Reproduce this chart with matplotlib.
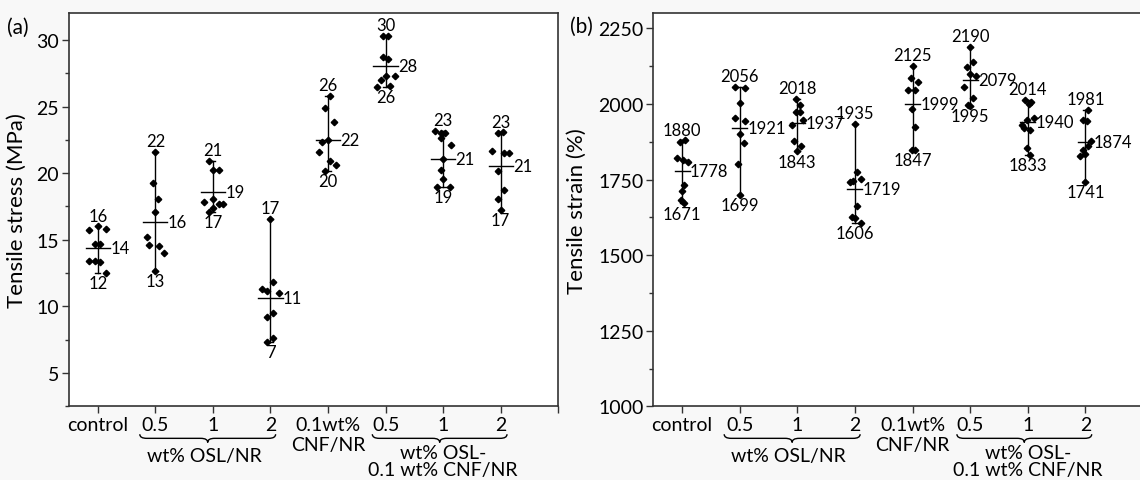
import matplotlib
matplotlib.use('Agg')
import matplotlib.pyplot as plt
from matplotlib.path import Path
from matplotlib.patches import PathPatch
from matplotlib.ticker import MultipleLocator
import numpy as np

plt.rcParams['font.family'] = ['Lato', 'DejaVu Sans']
plt.rcParams['font.size'] = 14

tick_labels = ['control', '0.5', '1', '2', '0.1wt%\nCNF/NR', '0.5', '1', '2', '']

# tensile stress (MPa), one list per sample group
stress_vals = [
    [16.0, 15.8, 15.7, 14.7, 14.7, 13.4, 13.4, 13.3, 12.5],
    [21.57, 19.25, 18.07, 17.08, 15.21, 14.6, 14.5, 14.03, 12.63],
    [20.9, 20.27, 20.27, 18.07, 17.85, 17.65, 17.65, 17.4, 17.08],
    [16.58, 11.84, 11.34, 11.14, 11.0, 9.47, 9.22, 7.6, 7.3],
    [25.8, 24.89, 23.82, 22.52, 22.32, 21.57, 20.9, 20.65, 20.2],
    [30.3, 30.3, 28.73, 28.55, 27.26, 27.26, 26.98, 26.56, 26.48],
    [23.19, 22.99, 22.99, 22.64, 22.14, 21.07, 20.25, 19.57, 19.0, 19.0],
    [23.07, 22.99, 21.69, 21.52, 21.52, 20.2, 18.77, 18.07, 17.25],
]
# horizontal scatter of the points as they sit in the figure
stress_dx = [
    [0, 0.145, -0.16, -0.05, 0.04, -0.16, -0.05, 0.04, 0.145],
    [0, -0.046, 0.046, 0, -0.144, -0.104, 0.058, 0.156, 0],
    [-0.075, 0.01, 0.1, 0.01, -0.15, 0.1, 0.17, 0.01, -0.075],
    [0, 0.046, -0.144, -0.052, 0.15, 0.046, -0.052, 0.046, -0.052],
    [0.04, -0.058, 0.1, 0, -0.1, -0.156, 0.04, 0.144, -0.058],
    [-0.04, 0.046, -0.04, 0.046, 0, 0.16, -0.087, 0.075, -0.156],
    [-0.144, -0.03, 0.04, -0.04, 0.144, 0, -0.04, 0, -0.1, 0.115],
    [0.04, -0.046, -0.15, 0.05, 0.144, -0.046, 0.05, -0.046, 0],
]
stress_mean = [14.4, 16.3, 18.6, 10.6, 22.5, 28.05, 21.07, 20.57]
stress_top = [16, 22, 21, 17, 26, 30, 23, 23]
stress_bot = [12, 13, 17, 7, 20, 26, 19, 17]

# tensile strain (%)
strain_vals = [
    [1880, 1875, 1822, 1816, 1808, 1732, 1712, 1681, 1671],
    [2056, 2052, 2003, 1954, 1943, 1901, 1871, 1800, 1699],
    [2018, 1997, 1974, 1973, 1948, 1931, 1879, 1862, 1843],
    [1935, 1774, 1752, 1746, 1741, 1664, 1626, 1624, 1606],
    [2125, 2086, 2074, 2048, 2047, 1984, 1925, 1849, 1847],
    [2190, 2140, 2123, 2099, 2092, 2055, 2019, 1998, 1995],
    [2014, 2008, 2000, 1953, 1948, 1930, 1921, 1915, 1855, 1833],
    [1981, 1948, 1943, 1879, 1862, 1849, 1835, 1829, 1741],
]
strain_dx = [
    [0.058, -0.04, -0.087, 0.017, 0.104, 0.035, 0, -0.023, 0.035],
    [-0.075, 0.087, 0, -0.087, 0.087, 0, 0.07, -0.03, 0],
    [-0.02, 0.04, -0.03, 0.04, 0.1, -0.087, -0.064, 0.07, 0],
    [0, 0.04, 0.1, -0.03, -0.087, 0.04, -0.058, 0, 0.1],
    [0, -0.03, 0.1, -0.075, 0.04, -0.017, 0.04, -0.017, 0.04],
    [0, 0.058, -0.058, 0, 0.104, -0.1, 0.058, -0.04, 0],
    [-0.05, 0.064, 0.02, 0.1, -0.02, -0.1, -0.07, 0.035, -0.02, 0.035],
    [0.04, -0.046, 0.02, 0.1, 0.04, -0.046, 0, -0.1, 0],
]
strain_mean = [1778, 1921, 1937, 1719, 1999, 2079, 1940, 1874]
strain_top = [1880, 2056, 2018, 1935, 2125, 2190, 2014, 1981]
strain_bot = [1671, 1699, 1843, 1606, 1847, 1995, 1833, 1741]


def brace(ax, x0, x1, y, h):
    # curly brace below the axis, x in data units, y in axes fraction
    xm = (x0 + x1) / 2
    d = 0.12
    verts = [(x0, y), (x0, y - h / 2), (x0 + d, y - h / 2),
             (xm - d, y - h / 2), (xm, y - h / 2), (xm, y - h),
             (xm, y - h / 2), (xm + d, y - h / 2),
             (x1 - d, y - h / 2), (x1, y - h / 2), (x1, y)]
    codes = [Path.MOVETO, Path.CURVE3, Path.CURVE3,
             Path.LINETO, Path.CURVE3, Path.CURVE3,
             Path.CURVE3, Path.CURVE3,
             Path.LINETO, Path.CURVE3, Path.CURVE3]
    p = PathPatch(Path(verts, codes), transform=ax.get_xaxis_transform(),
                  fc='none', ec='k', lw=1, clip_on=False)
    ax.add_patch(p)


def draw_panel(ax, vals, dx, means, tops, bots, half):
    cap = 0.045
    fs = 12
    for i in range(len(vals)):
        x = i + 1
        v = np.array(vals[i])
        ax.plot(x + np.array(dx[i]), v, 'D', color='k', ms=3.3, zorder=3)
        lo, hi = v.min(), v.max()
        ax.plot([x, x], [lo, hi], color='k', lw=1)
        ax.plot([x - cap, x + cap], [hi, hi], color='k', lw=1)
        ax.plot([x - cap, x + cap], [lo, lo], color='k', lw=1)
        ax.plot([x - half, x + half], [means[i], means[i]], color='k', lw=1)
        ax.annotate(str(tops[i]), (x, hi), xytext=(0, 2), textcoords='offset points',
                    ha='center', va='bottom', fontsize=fs)
        ax.annotate(str(bots[i]), (x, lo), xytext=(0, -1.5), textcoords='offset points',
                    ha='center', va='top', fontsize=fs)
        ax.annotate('{:.0f}'.format(means[i]), (x + half, means[i]), xytext=(0.3, 0),
                    textcoords='offset points', ha='left', va='center', fontsize=fs)

    ax.set_xlim(0.5, 9)
    ax.set_xticks(np.arange(1, 10))
    ax.set_xticklabels(tick_labels)
    ax.tick_params(axis='both', direction='out', length=5, width=1, color='#333333', pad=2)
    ax.tick_params(axis='y', which='minor', direction='out', length=3, width=1, color='#333333')
    for s in ax.spines.values():
        s.set_color('#333333')
        s.set_linewidth(1.2)

    brace(ax, 1.73, 4.09, -0.071, 0.021)
    brace(ax, 5.77, 8.11, -0.071, 0.021)
    tr = ax.get_xaxis_transform()
    ax.text(2.85, -0.126, 'wt% OSL/NR', transform=tr, ha='center', va='center')
    ax.text(7.0, -0.097, 'wt% OSL-\n0.1 wt% CNF/NR', transform=tr, ha='center', va='top',
            linespacing=1.0)


fig = plt.figure(figsize=(11.4, 4.81), dpi=100)
fig.patch.set_facecolor('#f8f8f8')
ax1 = fig.add_axes([0.0605, 0.1532, 0.4292, 0.8170])
ax2 = fig.add_axes([0.5731, 0.1532, 0.4295, 0.8170])

draw_panel(ax1, stress_vals, stress_dx, stress_mean, stress_top, stress_bot, 0.21)
ax1.set_ylim(2.5, 32)
ax1.yaxis.set_major_locator(MultipleLocator(5))
ax1.yaxis.set_minor_locator(MultipleLocator(2.5))
ax1.set_ylabel('Tensile stress (MPa)', fontsize=16)
ax1.yaxis.set_label_coords(-0.086, 0.5)

draw_panel(ax2, strain_vals, strain_dx, strain_mean, strain_top, strain_bot, 0.13)
ax2.set_ylim(1000, 2300)
ax2.yaxis.set_major_locator(MultipleLocator(250))
ax2.yaxis.set_minor_locator(MultipleLocator(125))
ax2.set_ylabel('Tensile strain (%)', fontsize=16)
ax2.yaxis.set_label_coords(-0.135, 0.5)

fig.text(7 / 1140, 1 - 28 / 481, '(a)', ha='left', va='center', fontsize=15)
fig.text(570 / 1140, 1 - 27 / 481, '(b)', ha='left', va='center', fontsize=15)

fig.savefig('out.png', dpi=100, facecolor=fig.get_facecolor())
